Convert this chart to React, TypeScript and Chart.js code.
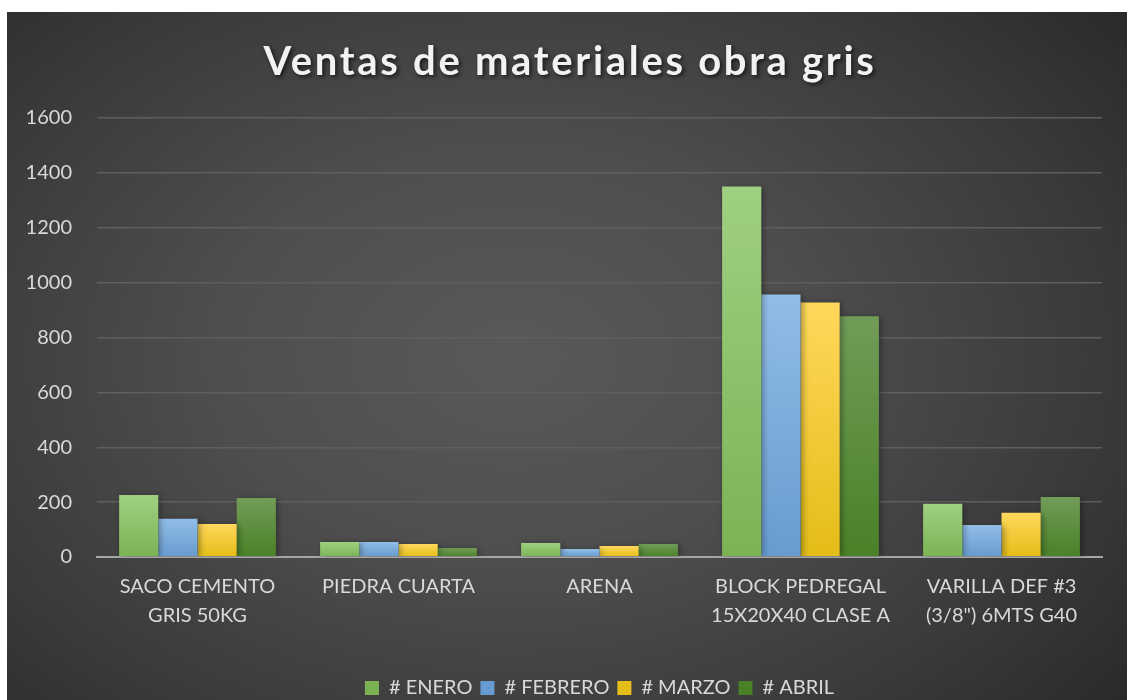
import React, { useEffect, useRef } from "react";
import { Chart, registerables } from "chart.js";

Chart.register(...registerables);

const categories: string[][] = [
  ["SACO CEMENTO", "GRIS 50KG"],
  ["PIEDRA CUARTA"],
  ["ARENA"],
  ["BLOCK PEDREGAL", "15X20X40 CLASE A"],
  ["VARILLA DEF #3", '(3/8") 6MTS G40'],
];
const enero = [226, 55, 51, 1350, 194];
const febrero = [139, 55, 29, 957, 117];
const marzo = [120, 47, 40, 928, 161];
const abril = [215, 33, 47, 877, 219];
const seriesNames = ["# ENERO", "# FEBRERO", "# MARZO", "# ABRIL"];
const yTicks = [0, 200, 400, 600, 800, 1000, 1200, 1400, 1600];
const titleText = "Ventas de materiales obra gris";

const palette: [string, string][] = [
  ["#9fd082", "#7bb354"],
  ["#91bde6", "#689bcf"],
  ["#ffd85c", "#e4bd18"],
  ["#719c58", "#4a8127"],
];

const FONT = "Lato, 'Open Sans', sans-serif";

function gradFor(idx: number) {
  return (ctx: any) => {
    const chart = ctx.chart;
    const [top, bot] = palette[idx];
    const area = chart.chartArea;
    if (!area) return top;
    const c = chart.ctx;
    const yScale = chart.scales.y;
    let y0 = area.top;
    let y1 = area.bottom;
    if (ctx.type === "data" && yScale && ctx.parsed) {
      y0 = yScale.getPixelForValue(ctx.parsed.y);
      y1 = yScale.getPixelForValue(0);
      if (!isFinite(y0) || !isFinite(y1) || y1 - y0 < 1) {
        y0 = y1 - 1;
      }
    }
    const g = c.createLinearGradient(0, y0, 0, y1);
    g.addColorStop(0, top);
    g.addColorStop(1, bot);
    return g;
  };
}

const titlePlugin = {
  id: "customTitle",
  afterDraw(chart: any) {
    const c = chart.ctx;
    c.save();
    c.font = `bold 40px ${FONT}`;
    (c as any).letterSpacing = "2.7px";
    c.textAlign = "center";
    c.textBaseline = "middle";
    c.shadowColor = "rgba(0,0,0,0.65)";
    c.shadowBlur = 4;
    c.shadowOffsetX = 2;
    c.shadowOffsetY = 2;
    c.fillStyle = "#f2f2f2";
    c.fillText(titleText, chart.width / 2 + 3, 50);
    c.restore();
  },
};

const shadowPlugin = {
  id: "barShadow",
  beforeDatasetsDraw(chart: any) {
    const c = chart.ctx;
    c.save();
    c.shadowColor = "rgba(0,0,0,0.35)";
    c.shadowBlur = 6;
    c.shadowOffsetX = 2;
    c.shadowOffsetY = 1;
  },
  afterDatasetsDraw(chart: any) {
    chart.ctx.restore();
  },
};

export default function App() {
  const ref = useRef<HTMLCanvasElement | null>(null);
  useEffect(() => {
    if (!ref.current) return;
    const allSeries = [enero, febrero, marzo, abril];
    const chart = new Chart(ref.current, {
      type: "bar",
      data: {
        labels: categories,
        datasets: allSeries.map((d, i) => ({
          label: seriesNames[i],
          data: d,
          backgroundColor: gradFor(i),
          borderWidth: 0,
          categoryPercentage: 0.78,
          barPercentage: 1,
        })),
      },
      options: {
        responsive: false,
        animation: false,
        maintainAspectRatio: false,
        layout: { padding: { left: 19, right: 25, top: 106, bottom: -8 } },
        plugins: {
          title: { display: false },
          tooltip: { enabled: false },
          legend: {
            position: "bottom",
            fullSize: false,
            labels: {
              color: "#d9d9d9",
              font: { family: FONT, size: 20 },
              boxWidth: 14,
              boxHeight: 14,
              padding: 8,
            },
          },
        },
        scales: {
          x: {
            grid: { display: false },
            border: { display: true, color: "#a6a6a6", width: 2 },
            afterFit: (s: any) => {
              s.height = 113;
            },
            ticks: {
              color: "#d9d9d9",
              font: { family: FONT, size: 20, lineHeight: 1.45 },
              padding: 7,
              maxRotation: 0,
              autoSkip: false,
            },
          },
          y: {
            min: 0,
            max: 1600,
            afterBuildTicks: (axis: any) => {
              axis.ticks = yTicks.map((v) => ({ value: v }));
            },
            afterFit: (s: any) => {
              s.width = 71;
            },
            grid: {
              color: (ctx: any) => (ctx.tick && ctx.tick.value === 0 ? "#a6a6a6" : "#5e5e5e"),
              lineWidth: (ctx: any) => (ctx.tick && ctx.tick.value === 0 ? 2 : 1.5),
              drawTicks: false,
            },
            border: { display: false },
            ticks: {
              color: "#d9d9d9",
              font: { family: FONT, size: 20 },
              padding: 25,
              callback: (v: any) => String(v),
            },
          },
        },
      },
      plugins: [titlePlugin, shadowPlugin],
    });
    return () => chart.destroy();
  }, []);

  return (
    <div
      style={{
        position: "absolute",
        left: 7,
        top: 12,
        width: 1120,
        height: 688,
        background:
          "radial-gradient(ellipse 75% 85% at 45% 50%, #595959 0%, #4e4e4e 35%, #3a3a3a 70%, #262626 100%)",
      }}
    >
      <canvas ref={ref} width={1120} height={688} style={{ display: "block" }} />
    </div>
  );
}
